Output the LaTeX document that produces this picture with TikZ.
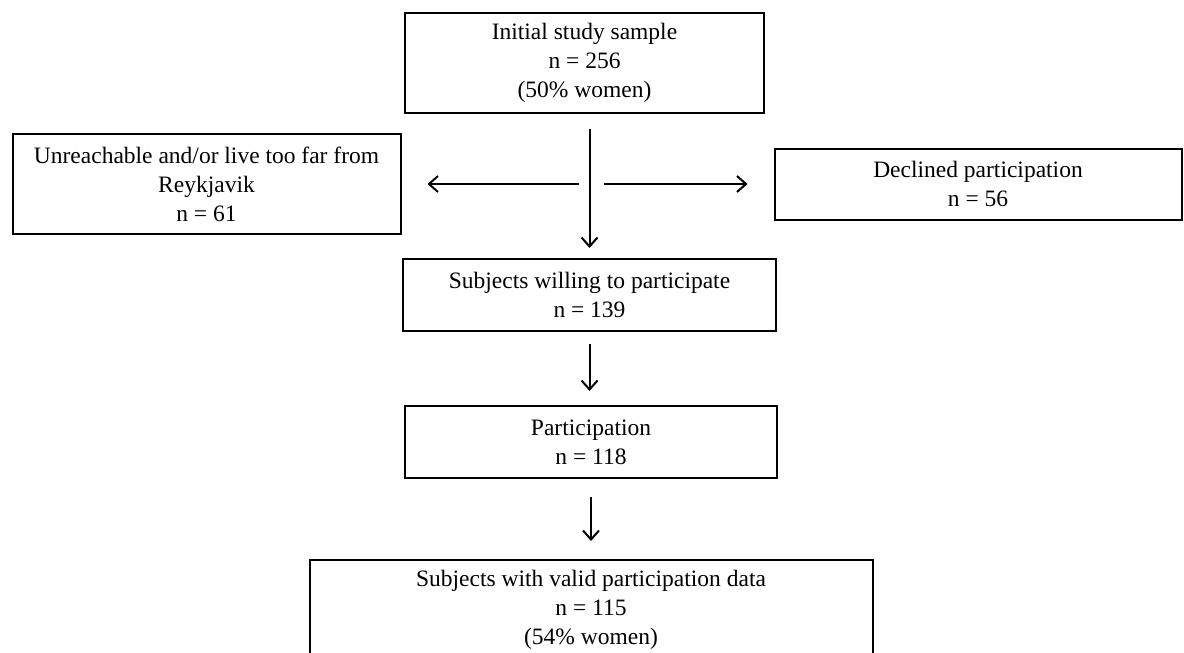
\documentclass[tikz,border=0pt]{standalone}
\usepackage{fontspec}
\setmainfont{Liberation Serif}
\usepackage{tikz}
\usetikzlibrary{positioning,arrows.meta}

\begin{document}
\begin{tikzpicture}[->,>={Straight Barb[length=9pt,width=16pt]},line width=2pt,x=1pt,y=1pt,
		box/.style={draw,rectangle,align=center,inner sep=0pt,font=\fontsize{23.5}{29}\selectfont}]
			\useasboundingbox (0,0) rectangle (1184,-653);
			\clip (0,0) rectangle (1184,-653);
			\node[box,minimum width=359pt,minimum height=100pt] (init) at (584.5,-63) {Initial study sample\\n = 256\\(50\% women)};
			\node[box,minimum width=373pt,minimum height=72pt] (willing) [below=144pt of init,xshift=5pt] {Subjects willing to participate\\n = 139};
			\node[box,minimum width=372pt,minimum height=72pt] (particip) [below=73pt of willing,xshift=1.5pt] {Participation\\n = 118};
			\node[box,minimum width=563pt,minimum height=100pt] (valid) [below=80pt of particip] {Subjects with valid participation data\\n = 115\\(54\% women)};
			\node[coordinate] (split) [above=74pt of willing.north] {};
			\node[box,minimum width=388pt,minimum height=100pt] (unreach) [left=188pt of split] {Unreachable and/or live too far from\\Reykjavik\\n = 61};
			\node[box,minimum width=407pt,minimum height=71pt] (declined) [right=184pt of split] {Declined participation\\n = 56};

			\path 	(willing.north |- init.south) edge[shorten <=15pt,shorten >=10pt] (willing.north)
					(split) edge[shorten <=11pt,shorten >=26pt] (unreach.east)
					(split) edge[shorten <=14pt,shorten >=26pt] (declined.west)
					(willing.south) edge[shorten <=12pt,shorten >=14pt] (willing.south |- particip.north)
					(particip.south) edge[shorten <=18pt,shorten >=18pt] (valid.north);
\end{tikzpicture}
\end{document}
